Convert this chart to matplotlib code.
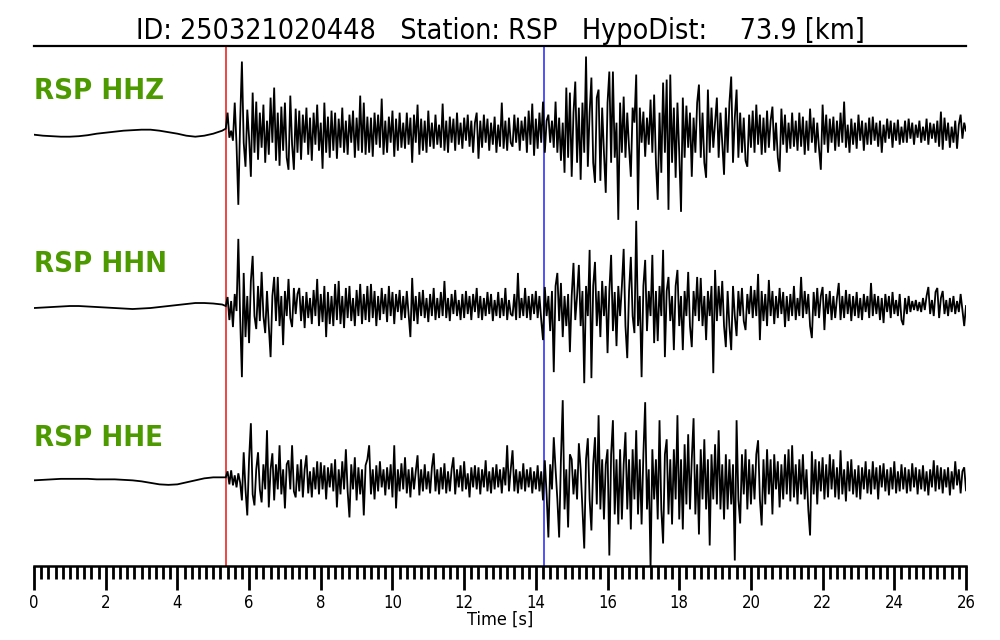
import numpy as np
import matplotlib
matplotlib.use("Agg")
import matplotlib.pyplot as plt
from matplotlib.ticker import MultipleLocator

plt.rcParams["font.family"] = ["DejaVu Sans"]
plt.rcParams["font.stretch"] = "condensed"

# ---------------- data ----------------
title_text = "ID: 250321020448   Station: RSP   HypoDist:    73.9 [km]"
channels = ["RSP HHZ", "RSP HHN", "RSP HHE"]
p_pick = 5.36     # s
s_pick = 14.23    # s
pre_dt = 0.25     # s, sampling of pre-event part (starts at 0 s)
main_t0 = 5.35    # s, start of dense part
main_dt = 0.05    # s

# pre-event (0 .. 5.25 s) amplitudes (arbitrary counts)
hhz_pre = [-2, -3, -3.5, -4, -4, -3.5, -2.5, -1, 0, 1, 2, 2.5, 3, 3, 2, 0.5, -1, -3, -4, -3, -1, 2]
hhn_pre = [-2, -1.5, -1, -0.5, 0, 0, -0.5, -1, -1.5, -2, -2.5, -3, -2.5, -2, -1, 0, 1, 2, 3, 3, 2.5, 1.5]
hhe_pre = [-1, -0.5, 0, 0.5, 0.5, 0.5, 0.5, 0, 0, 0, -0.5, -1, -2, -3.5, -5, -5.5, -5, -3, -1, 1, 2, 2]

# dense part (5.35 .. 26.0 s), one row per second
hhz_main = [
    [4, 20, -5, 2, -8, 30, -12, -72, 10, 71, -10, -34, 23, -5, -44, 40, -20, 31, -27, 20],
    [-15, 28, -30, 12, -22, 35, -10, 45, -28, 20, -33, 26, -18, 30, -25, -37, 37, -12, -37, 24],
    [-20, 22, -27, 18, -10, 25, -22, 15, -28, 20, -12, 28, -18, 10, -36, 30, -20, 16, -25, 22],
    [-18, 20, -26, 14, -15, 25, -20, 12, -22, 18, -10, 22, -25, 15, -18, 37, -20, 30, -22, 16],
    [-20, 15, -24, 20, -12, 18, -15, 34, -22, 12, -20, 16, -10, 22, -24, 14, -18, 20, -15, 10],
    [-16, 20, -12, 15, -30, 18, -10, 28, -22, 14, -18, 12, -20, 22, -14, 10, -16, 18, -12, 8],
    [-15, 29, -18, 12, -20, 16, -10, 14, -18, 20, -12, 10, -16, 15, -8, 18, -14, 12, -20, 10],
    [20, -26, 12, -15, 18, -10, 14, -18, 10, -12, 16, -20, 8, -14, 30, -16, 12, -18, 15, -10],
    [-14, 18, -10, 15, -18, 12, -8, 16, -20, 22, -12, 29, -23, 14, -16, 20, -10, 31, -20, 12],
    [18, -10, 12, -15, 31, -20, 15, -28, 10, -40, 45, -25, 40, -44, 20, 51, -30, 25, -47, 30],
    [-20, 76, -34, 20, 55, -30, -50, 35, 43, -48, 25, -20, -60, 30, 61, -30, 61, -25, 10, -87],
    [30, -20, 36, -25, 20, -15, -44, 25, 10, 58, -77, 25, -10, 21, -24, 15, -12, 33, -20, 38],
    [-30, -67, 20, -40, 50, -20, 53, -77, 58, -30, 25, -45, 30, -20, -79, 35, -25, 27, -15, 20],
    [-44, 15, -20, 30, 48, -25, 20, -30, -45, 43, -20, 25, -15, 10, 35, -25, 20, -10, -42, 25],
    [-20, 30, 56, -30, 15, 43, -25, 20, -20, 15, -28, -34, 18, -15, 22, -20, 28, -12, 18, -22],
    [15, -20, 22, -15, 12, 26, -18, 10, -25, -39, 24, -12, 18, -20, 10, -16, 20, -14, 12, -18],
    [20, -14, 16, -22, 12, -18, 24, -10, 15, -20, 10, -16, -37, 28, -12, 18, -20, 14, -10, 16],
    [-18, 12, -14, 20, -10, 31, -15, 8, -20, 14, -12, 10, -16, 18, -8, 12, -18, 10, -12, 15],
    [-12, 16, -8, 10, -14, 12, -20, 8, -10, 14, -6, 12, -15, 10, -8, 13, -12, 6, -10, 12],
    [-10, 14, -6, 10, -12, 8, -5, 12, -10, 6, -8, 14, -12, 10, -6, 9, -10, 12, -14, 21],
    [-17, 15, -8, 10, -15, 6, -10, 12, -16, 8, 18, -6, 10, 2],
]
hhn_main = [
    [0, 9, -14, 5, -21, 12, -5, 67, -10, -71, 33, -31, 10, -37, 25, 50, -10, -23, 20, -15],
    [34, -10, -27, 15, -20, -51, 10, 29, -15, 29, -20, 10, -39, 15, -10, 27, -12, -21, 18, -8],
    [12, 18, -15, 10, -22, 14, -12, 8, -18, 16, -10, 27, -20, 12, -16, 20, -31, 14, -18, 10],
    [-20, 22, -14, 25, -18, 10, -22, 18, -12, 20, -15, 8, -20, 16, -10, 22, -18, 12, -14, 20],
    [-16, 22, -12, 15, -20, 10, -14, 18, -8, 12, -16, 20, -10, 14, -18, 12, -6, 16, -14, 10],
    [-12, 15, -8, -31, 28, -15, 10, -18, 14, -10, 16, -12, 8, -16, 12, -10, 18, -14, 8, -12],
    [14, -10, 25, -12, 8, -15, 12, -8, 16, -10, 6, -14, 12, -12, 15, -8, 10, -14, 12, -6],
    [18, -12, 10, -14, 8, -10, 14, -8, 12, -15, 6, -10, 14, -12, 8, -10, 18, -14, 6, -8],
    [-10, 12, -14, 33, -12, 8, -10, 18, -12, 10, -14, 12, -8, 15, -12, 10, -14, -34, 19, -10],
    [10, -25, 15, -66, 20, 33, -15, 23, -31, 10, -20, 12, -46, 10, 43, -14, 10, 41, -20, 15],
    [-77, 20, -10, 56, -72, 20, 44, -20, 15, -31, 25, -10, 20, -47, 15, 51, -25, 14, -40, 20],
    [-10, 20, 57, -20, -52, 15, 49, -10, -27, 85, -20, 10, -71, 20, 46, -25, 15, -10, 51, -37],
    [15, -35, 20, -10, 56, -51, 15, 29, -15, 10, -44, 20, 36, -20, 10, -44, 15, -10, 34, -20],
    [-41, 15, -10, 29, -15, 28, -20, 10, -34, 15, -10, 20, -67, 36, -15, 20, -10, 25, -20, -41],
    [15, -20, -44, 20, -10, -30, 15, -10, 18, -15, -24, 12, -8, 20, -12, 16, -10, 32, -34, 15],
    [-15, 12, -20, 26, -10, 15, -18, 10, -12, 18, -8, 14, -21, 10, -15, 12, -10, 20, -14, 8],
    [-10, 29, -12, 15, -8, 12, -20, -32, 14, -10, 18, -12, 10, 19, -24, 12, -8, 15, -14, 10],
    [-12, 8, 23, -14, 10, -12, 16, -8, 12, -15, 10, -10, 14, -12, 8, -14, 12, -6, 10, -12],
    [23, -10, 12, -8, 10, -14, 8, -17, 12, -6, 10, -12, 14, -8, 6, -10, 12, -14, -19, 8],
    [-8, 10, -6, 5, -4, 6, -5, 4, -6, 8, -4, 10, 19, -8, 6, -10, 14, 18, -12, 8],
    [15, -8, 6, -10, 8, -6, 10, -8, 5, -6, 12, -4, -20, 0],
]
hhe_main = [
    [2, 8, -5, 9, -6, 4, -8, 6, -3, -21, 27, -10, -36, 20, 56, -15, -26, 10, 27, -10],
    [-23, 15, -10, 49, -28, 10, 26, -21, 15, -10, 34, -15, 10, -29, 15, 19, -10, 34, -12, -18],
    [15, -12, 20, -18, 10, 24, -14, 8, -18, 12, -10, 18, -15, 17, -10, 14, -20, 12, -8, 16],
    [-12, 20, -28, 10, -15, 18, -10, 30, -12, -38, 15, -10, 22, -21, 12, -15, 10, -36, 14, 20],
    [34, -15, 10, -20, 14, -12, 18, -8, 10, -16, 12, -10, 15, -18, 34, -29, 10, -12, 16, -10],
    [22, -14, 10, -18, 12, -10, 8, 24, -16, 10, -12, 15, -10, 8, -14, 12, 26, -12, 10, -15],
    [12, -10, 16, -14, 8, -12, 10, 22, -15, 10, -8, 14, -12, 18, -10, 6, -18, 12, -8, 14],
    [-10, 12, -15, 10, -8, 19, -12, 8, -14, 12, -10, 15, -8, 10, -14, 12, -6, 34, -12, 10],
    [29, -12, 10, -14, 8, -10, 16, -12, 10, -8, 12, -14, 8, -10, 14, -12, 8, -21, 19, -15],
    [-58, 15, -10, 42, 10, -20, -58, 20, 79, -30, 10, -48, 25, 20, -15, 10, -20, 36, 10, -30],
    [-69, 20, 41, -20, -51, 15, 42, -25, 64, -30, 20, -40, 15, 30, -76, 25, 59, -35, 20, -45],
    [30, -40, 15, 47, -30, 20, -50, 30, -20, 49, -35, 20, -45, 25, 77, -30, 10, -88, 30, -20],
    [20, -40, 59, -30, -64, 25, 40, -35, 20, -45, 30, -20, 64, -40, 20, -50, 35, -25, 45, -30],
    [20, 61, -35, 15, -55, 30, -20, 40, -30, 20, -66, 25, -20, 35, -25, 49, -30, 15, -40, 25],
    [-30, 20, -25, 15, -81, 59, -20, -44, 25, -15, 30, -30, 20, -25, 15, -20, 25, 39, -20, -46],
    [20, -25, 30, -15, 20, -35, 25, -10, 18, -28, 15, -20, 25, -15, 30, -22, 34, -18, 15, -25],
    [20, -15, 25, -20, 10, -30, -56, 28, -15, 20, -25, 18, -12, 22, -20, 15, -18, 25, -10, 20],
    [-18, 12, -20, 29, -15, 10, -22, 18, -12, 20, -15, 10, -18, 14, -20, 12, -10, 18, -14, 10],
    [-15, 18, -10, 12, -20, 14, -8, 16, -12, 10, -16, 12, -10, 18, -14, 8, -12, 15, -10, 12],
    [-14, 10, -12, 16, -8, 12, -15, 10, -10, 14, -12, 8, -16, 10, -8, 19, -12, 14, -10, 12],
    [-14, 10, -8, 12, -16, 8, -10, 18, -6, 10, -14, 8, 12, -11],
]

x_major = 2
x_minor = 0.2
x_max = 26

# ---------------- style ----------------
AMP_SCALE = 1.0 / 173.0       # counts -> trace spacing units
LABEL_GREEN = "#4c9a00"

fig = plt.figure(figsize=(10, 6.4), dpi=100)
ax = fig.add_axes([0.034, 0.1156, 0.932, 0.8125])

traces = [(hhz_pre, hhz_main), (hhn_pre, hhn_main), (hhe_pre, hhe_main)]
n = len(traces)
for k, ((pre, main), name) in enumerate(zip(traces, channels)):
    offset = n - 1 - k
    pre_arr = np.asarray(pre, dtype=float)
    main_arr = np.concatenate([np.asarray(r, dtype=float) for r in main])
    t_pre = np.arange(len(pre_arr)) * pre_dt
    t_main = main_t0 + np.arange(len(main_arr)) * main_dt
    t = np.concatenate([t_pre, t_main])
    y = np.concatenate([pre_arr, main_arr]) * AMP_SCALE + offset
    ax.plot(t, y, color="black", lw=1.3, zorder=3, solid_joinstyle="miter")
    ax.text(0.0, offset + 0.24, name, color=LABEL_GREEN, fontsize=21,
            fontweight="bold", ha="left", va="center", zorder=4)

ax.axvline(p_pick, color="#ee1111", lw=1.1, zorder=2)
ax.axvline(s_pick, color="#2222ff", lw=1.1, zorder=2)

ax.set_xlim(0, x_max)
ax.set_ylim(-0.5, n - 0.5)
for side in ("left", "right"):
    ax.spines[side].set_visible(False)
ax.spines["top"].set_linewidth(1.6)
ax.spines["bottom"].set_linewidth(1.8)
ax.set_yticks([])
ax.xaxis.set_major_locator(MultipleLocator(x_major))
ax.xaxis.set_minor_locator(MultipleLocator(x_minor))
ax.tick_params(axis="x", which="major", direction="out", length=17, width=2.0,
               labelsize=12, pad=3)
ax.tick_params(axis="x", which="minor", direction="out", length=9.5, width=2.0)
ax.set_xlabel("Time [s]", fontsize=13, labelpad=-1)
ax.set_title(title_text, fontsize=20.5, pad=5)

fig.savefig("out.png", dpi=100)
